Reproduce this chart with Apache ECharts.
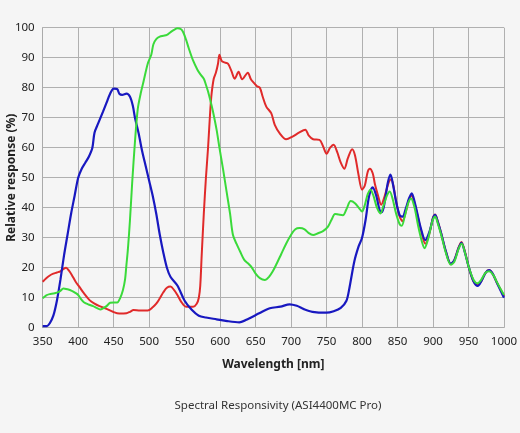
<!DOCTYPE html>
<html>
<head>
<meta charset="utf-8">
<script src="https://cdn.jsdelivr.net/npm/echarts@6/dist/echarts.min.js"></script>
<style>
html,body{margin:0;padding:0;background:#f5f5f5;}
#c{width:520px;height:433px;}
</style>
</head>
<body>
<div id="c"></div>
<script>
const xTicks = [350,400,450,500,550,600,650,700,750,800,850,900,950,1000];
const yTicks = [0,10,20,30,40,50,60,70,80,90,100];

const blueNm = [350,356,360,365,370,375,380,385,390,395,400,405,410,415,420,423,428,435,440,445,450,455,458,462,468,473,477,480,485,490,495,500,505,510,515,520,525,530,540,550,560,570,580,595,610,627,640,655,670,685,698,708,718,730,750,760,770,778,782,789,795,800,805,810,815,820,825,828,832,836,840,843,848,853,857,862,866,870,874,878,883,889,895,900,903,907,912,918,925,930,936,940,945,950,957,963,968,974,979,984,990,995,1000];
const blueVal = [0.5,0.5,1.5,4,9,16,24,31,38,44,50,53,55,57,60,65,68,72,75,78,79.7,79.5,78,77.6,78,77,74,70,65,59,54,49,44,38,31,25,20,17,14,9,6,4,3.4,2.8,2.2,1.8,3,4.8,6.5,7,7.8,7.3,6.2,5.3,5,5.5,6.6,9,13,22,27,30,36,44,46.8,44,39,38.5,42,48,51,48.5,42,37.5,37,40,43,44.8,42,38,33,29.2,32,36.5,37.6,35,31,25.5,21.3,22.5,26.5,28.3,25,20.5,15.5,13.9,15.5,18.3,19.2,18,15,12.5,10];

const redNm = [350,355,360,365,370,375,380,383,387,391,396,402,408,416,423,430,440,449,458,468,473,478,487,498,505,510,515,520,525,530,535,540,545,552,562,567,570,572,574,577,580,583,586,588,591,594,597,599,602,605,611,616,620.5,626,631,639,643,646,652,656,660,665,672,677,684,693,702,711,720,725,731,740,745,750,755,760,765,770,775,780,786,790,795,800,804,808,811,815,818,822,827,832,838,841,844,848,853,857,862,866,870,874,878,883,889,895,900,903,907,912,918,925,930,936,940,945,950,957,963,968,974,979,984,990,995,1000];
const redVal = [15.3,16.5,17.4,18,18.4,18.8,19.7,20,19,17.6,15.5,13.5,11.5,9.2,8,7.2,6.3,5.3,4.7,4.8,5.3,5.9,5.7,5.7,6.8,8,9.8,11.8,13.3,13.7,12.6,10.8,8.7,7,7,8,10,14,24,38,50,60,72,78,83,85,88,91,89,88.5,88,85.5,83,85.3,82.8,85,83,82,80.5,80,77,73.7,71.5,67.6,64.8,62.8,63.7,65,66,64,62.8,62.6,60.5,58,60,61,58.5,55,53,56.5,59.5,57.5,51,46,47.5,52,53,51.5,48,44.5,41,44,48.7,49.5,47.5,42,37,35.5,39,42.5,44,41.5,37.5,32.5,28,31.5,36.8,37.7,35.2,31,25.5,21.2,22.5,26.8,28.6,25.3,20.5,15.5,14.3,15.5,18.3,19.2,18,15,12.8,10.5];

const greenNm = [350,355,360,365,370,375,379,385,391,396,400,404,408,414,421,426,431,436,440,445,450,455,459,463,466,468,470,473,476,480,484,488,492,498,503,506,510,515,520,525,530,535,540,545,548,552,556,562,568,572,577,580,583,587,590,595,599,604,609,614,618,623,628,634,640,644,650,656,663,669,674,680,686,693,700,706,712,719,725,731,738,745,752,757,762,767,773,778,784,790,796,800,804,808,812,816,821,826,830,835,839,843,848,853,856,860,865,869,874,879,884,888,893,899,903,907,912,918,925,930,936,940.5,945,950,957,962.7,968,974,979,985,990,995,1000];
const greenVal = [9.8,10.8,11.2,11.4,11.7,12.3,13.1,12.8,12.3,11.6,10.9,9.5,8.5,7.8,7.2,6.6,6.1,6.6,7.2,8.3,8.4,8.4,9.8,12.5,16,21,26,36,48,62,73,78,82,88,91,94.5,96.2,97,97.3,97.6,98.5,99.3,99.8,99.5,98.5,96,93,89,86,84.5,83,81,78.7,75,72,66,60,53,45.5,38,31,28,25.5,22.6,21.3,20.3,18,16.5,15.9,17,18.7,21.5,24.5,28,31,32.8,33.2,32.8,31.5,30.9,31.5,32.2,33.7,36,37.9,37.7,37.5,39.5,42.2,41.5,39.8,38.7,41,44.5,46,44,40,38.1,40.5,44,45.4,43,38,34.5,34,37,41.5,43.1,40,34,29,26.5,29.5,35.5,37.1,34.5,30.5,25,21,22,26.3,28,25,20.5,16,14.8,16,18.3,18.8,17.5,15.2,13,10.9];

function pairs(xs, ys){ return xs.map((x,i)=>[x, ys[i]]); }

const chart = echarts.init(document.getElementById('c'));
const FONT = '"Noto Sans", "Open Sans", sans-serif';
chart.setOption({
  backgroundColor: '#f5f5f5',
  animation: false,
  title: {
    text: 'Spectral Responsivity (ASI4400MC Pro)',
    left: 273, top: 395, textAlign: 'center',
    textStyle: {fontFamily: FONT, fontSize: 11.5, fontWeight: 'normal', color: '#333'}
  },
  grid: {left: 42.7, right: 16, top: 27.7, bottom: 105.3, containLabel: false, outerBoundsMode: 'none'},
  xAxis: {
    type: 'value', min: 350, max: 1000, interval: 50,
    name: 'Wavelength [nm]', nameLocation: 'middle', nameGap: 31, nameMoveOverlap: false,
    nameTextStyle: {fontFamily: FONT, fontSize: 12, fontWeight: 'bold', color: '#222'},
    axisLine: {show: true, lineStyle: {color: '#aaa', width: 1}},
    axisTick: {show: false},
    axisLabel: {fontFamily: FONT, fontSize: 11.5, color: '#222', margin: 8, formatter: v => String(v)},
    splitLine: {show: true, lineStyle: {color: '#b0b0b0', width: 1}}
  },
  yAxis: {
    type: 'value', min: 0, max: 100, interval: 10,
    name: 'Relative response (%)', nameLocation: 'middle', nameGap: 25, nameMoveOverlap: false,
    nameTextStyle: {fontFamily: FONT, fontSize: 12, fontWeight: 'bold', color: '#222'},
    axisLine: {show: true, lineStyle: {color: '#aaa', width: 1}},
    axisTick: {show: false},
    axisLabel: {fontFamily: FONT, fontSize: 11.5, color: '#222', margin: 8, formatter: v => String(v)},
    splitLine: {show: true, lineStyle: {color: '#b0b0b0', width: 1}}
  },
  series: [
    {type: 'line', data: pairs(redNm, redVal), smooth: 0.3, showSymbol: false,
     lineStyle: {color: '#e02a2a', width: 2}, itemStyle: {color: '#e02a2a'}},
    {type: 'line', data: pairs(blueNm, blueVal), smooth: 0.3, showSymbol: false,
     lineStyle: {color: '#1818c0', width: 2.2}, itemStyle: {color: '#1818c0'}},
    {type: 'line', data: pairs(greenNm, greenVal), smooth: 0.3, showSymbol: false,
     lineStyle: {color: '#3ada3a', width: 2}, itemStyle: {color: '#3ada3a'}}
  ]
});
</script>
</body>
</html>
